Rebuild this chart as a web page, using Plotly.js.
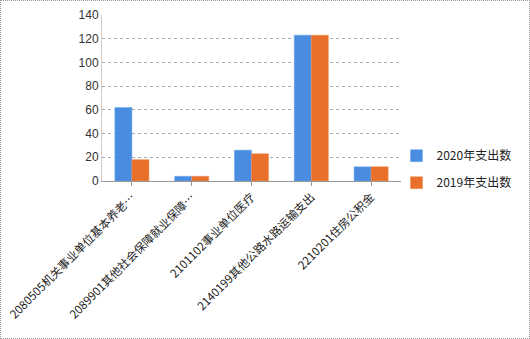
<!DOCTYPE html>
<html><head><meta charset="utf-8">
<script src="https://cdn.plot.ly/plotly-3.0.1.min.js"></script>
<style>html,body{margin:0;padding:0;background:#fff}#c{width:530px;height:339px;box-sizing:border-box;border:1px dotted #999}</style>
</head><body><div id="c"></div>
<script>
var categories = ["2080505机关事业单位基本养老…","2089901其他社会保障就业保障…","2101102事业单位医疗","2140199其他公路水路运输支出","2210201住房公积金"];
var values2020 = [62, 4, 26, 123, 12];
var values2019 = [18, 4, 23, 123, 12];
var seriesNames = ["2020年支出数","2019年支出数"];
var data = [
 {type:'bar', x:categories, y:values2020, name:seriesNames[0], legendgroup:'a', marker:{color:'#4a8de0', line:{color:'#6aa6ef',width:0.5}}},
 {type:'bar', x:categories, y:values2019, name:seriesNames[1], legendgroup:'b', marker:{color:'#e8702a', line:{color:'#f08a4a',width:0.5}}}
];
var layout = {
 width:528, height:337,
 margin:{l:101, r:126, t:14, b:157},
 paper_bgcolor:'#fff', plot_bgcolor:'#fff',
 bargap:0.43, bargroupgap:0,
 font:{family:'"Noto Sans CJK SC", sans-serif', color:'#222', size:12},
 xaxis:{tickangle:-45, tickfont:{size:11.5, family:'"Noto Sans CJK SC", serif', color:'#222'}, showline:true, linecolor:'#999', ticks:'outside', ticklen:4, tickcolor:'#999', showgrid:false, automargin:false},
 yaxis:{range:[0,140], dtick:20, tickfont:{size:12, family:'Arial, "Liberation Sans", sans-serif', color:'#333'}, showgrid:true, gridcolor:'#aaa', griddash:'dot', gridwidth:1, showline:true, linecolor:'#ccc', zeroline:false, ticks:'', automargin:false},
 legend:{x:0.985, xanchor:'left', y:0.24, yanchor:'top', traceorder:'grouped', tracegroupgap:8, font:{size:12, color:'#222'}, itemwidth:30, bgcolor:'rgba(0,0,0,0)'},
 showlegend:true
};
Plotly.newPlot('c', data, layout, {displayModeBar:false, staticPlot:true});
</script></body></html>
